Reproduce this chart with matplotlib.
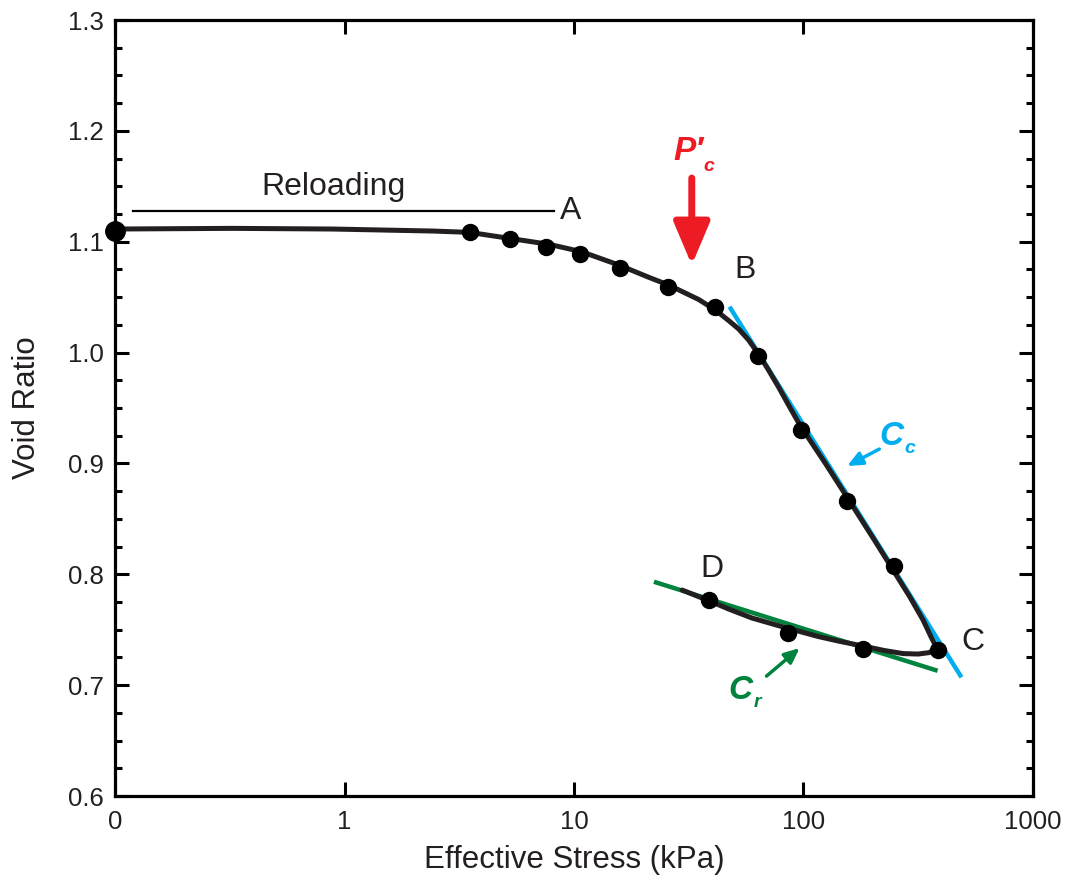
import numpy as np
import matplotlib
matplotlib.use("Agg")
import matplotlib.pyplot as plt
from matplotlib.ticker import FixedLocator, MultipleLocator

plt.rcParams['font.family'] = ['Liberation Sans', 'DejaVu Sans']

# measured points (effective stress kPa, void ratio)
stress_load = [0.1, 3.52, 5.25, 7.53, 10.6, 15.8, 25.7, 41.0, 63.3, 97.3, 155, 248, 384]
void_load = [1.110, 1.1085, 1.1022, 1.0955, 1.0889, 1.076, 1.0594, 1.0414, 0.9972, 0.9299, 0.8661, 0.8077, 0.7317]
stress_unload = [182, 85.2, 38.9]
void_unload = [0.7326, 0.7468, 0.7768]

# fitted curve through loading and unloading
curve_x = [0.1, 0.326, 0.887, 2.41, 3.50, 5.22, 7.79, 10.8, 15.7, 21.2, 25.9, 34.96, 41.3,
           47.2, 52.2, 57.7, 63.7, 70.4, 77.9, 86.1, 95.1, 107.3, 124.3, 151.8, 205, 291,
           332, 360, 375, 371, 353, 316, 272, 226, 182, 141.9, 116, 83.2, 59.6, 47.2, 38.6, 29.6]
curve_y = [1.1115, 1.1121, 1.1115, 1.1097, 1.1085, 1.1031, 1.0977, 1.0910, 1.0790, 1.0679,
           1.0609, 1.0479, 1.0384, 1.0289, 1.0213, 1.0113, 0.9987, 0.9843, 0.9689, 0.9527,
           0.9369, 0.9202, 0.9004, 0.8724, 0.8300, 0.7795, 0.7588, 0.7434, 0.7362, 0.7321,
           0.7294, 0.7281, 0.7285, 0.7312, 0.7353, 0.7398, 0.7439, 0.7520, 0.7606, 0.7687,
           0.7763, 0.7858]

# compression / recompression index lines
cc_x = [47.6, 488]
cc_y = [1.0414, 0.7071]
cr_x = [22.3, 384]
cr_y = [0.7933, 0.7130]

reload_x = [0.1197, 8.19]
reload_y = [1.1277, 1.1277]

xticks = [0.1, 1, 10, 100, 1000]
xticklabels = ["0", "1", "10", "100", "1000"]

RED = "#ED1C24"
BLUE = "#00AEEF"
GREEN = "#00843D"
INK = "#231F20"

fig = plt.figure(figsize=(10.71, 8.84), dpi=100)
ax = fig.add_axes([0.1074, 0.0995, 0.8571, 0.8778])

ax.plot(reload_x, reload_y, color='black', lw=1.6)
ax.plot(cc_x, cc_y, color=BLUE, lw=3.2, solid_capstyle='butt')
ax.plot(cr_x, cr_y, color=GREEN, lw=3.2, solid_capstyle='butt')
ax.plot(curve_x, curve_y, color=INK, lw=3.6, solid_joinstyle='round', solid_capstyle='round')
ax.plot(stress_load[1:], void_load[1:], 'o', color='black', ms=11.5)
ax.plot(stress_unload, void_unload, 'o', color='black', ms=11.5)
ax.plot(stress_load[:1], void_load[:1], 'o', color='black', ms=14, clip_on=False, zorder=5)

ax.set_xscale('log')
ax.set_xlim(0.1, 1000)
ax.set_ylim(0.6, 1.3)
ax.xaxis.set_major_locator(FixedLocator(xticks))
ax.xaxis.set_minor_locator(FixedLocator([]))
ax.set_xticklabels(xticklabels)
ax.yaxis.set_major_locator(MultipleLocator(0.1))
ax.yaxis.set_minor_locator(MultipleLocator(0.025))
ax.yaxis.set_major_formatter(plt.FormatStrFormatter('%.1f'))

ax.tick_params(which='both', direction='in', top=True, right=True, width=2.2,
               labelsize=18.5, labelcolor=INK)
ax.tick_params(which='major', length=10)
ax.tick_params(which='minor', length=5)
ax.tick_params(axis='x', pad=10)
ax.tick_params(axis='y', pad=8)
for s in ax.spines.values():
    s.set_linewidth(2.3)

ax.set_xlabel('Effective Stress (kPa)', fontsize=22.5, color=INK)
ax.set_ylabel('Void Ratio', fontsize=22.5, color=INK)
ax.xaxis.set_label_coords(0.5, -0.063)
ax.yaxis.set_label_coords(-0.08, 0.5)

# annotations
ax.text(0.896, 1.1493, 'Reloading', fontsize=23, ha='center', va='center', color=INK)
ax.text(9.7, 1.1277, 'A', fontsize=23, ha='center', va='center', color=INK)
ax.text(55.4, 1.0745, 'B', fontsize=23, ha='center', va='center', color=INK)
ax.text(548, 0.7389, 'C', fontsize=23, ha='center', va='center', color=INK)
ax.text(39.8, 0.8048, 'D', fontsize=23, ha='center', va='center', color=INK)

# preconsolidation pressure
ax.text(31.6, 1.181, "P\u2032", fontsize=24, fontweight='bold', fontstyle='italic',
        ha='center', va='center', color=RED)
ax.text(36.6, 1.168, 'c', fontsize=14, fontweight='bold', fontstyle='italic',
        ha='left', va='center', color=RED)
ax.annotate('', xy=(32.6, 1.079), xytext=(32.6, 1.1575),
            arrowprops=dict(arrowstyle='-|>,head_width=1.1,head_length=2.6',
                            color=RED, lw=5, shrinkA=0, shrinkB=0))

# compression index
ax.text(241.5, 0.9247, 'C', fontsize=24, fontweight='bold', fontstyle='italic',
        ha='center', va='center', color=BLUE)
ax.text(292, 0.9138, 'c', fontsize=14, fontweight='bold', fontstyle='italic',
        ha='center', va='center', color=BLUE)
ax.annotate('', xy=(155, 0.8977), xytext=(214, 0.913),
            arrowprops=dict(arrowstyle='-|>,head_width=0.4,head_length=0.9',
                            color=BLUE, lw=2.5, shrinkA=0, shrinkB=0))

# recompression index
ax.text(53.2, 0.6956, 'C', fontsize=24, fontweight='bold', fontstyle='italic',
        ha='center', va='center', color=GREEN)
ax.text(63.1, 0.6847, 'r', fontsize=14, fontweight='bold', fontstyle='italic',
        ha='center', va='center', color=GREEN)
ax.annotate('', xy=(96.2, 0.7335), xytext=(69.0, 0.7082),
            arrowprops=dict(arrowstyle='-|>,head_width=0.4,head_length=0.9',
                            color=GREEN, lw=2.5, shrinkA=0, shrinkB=0))

fig.savefig('out.png', dpi=100)
